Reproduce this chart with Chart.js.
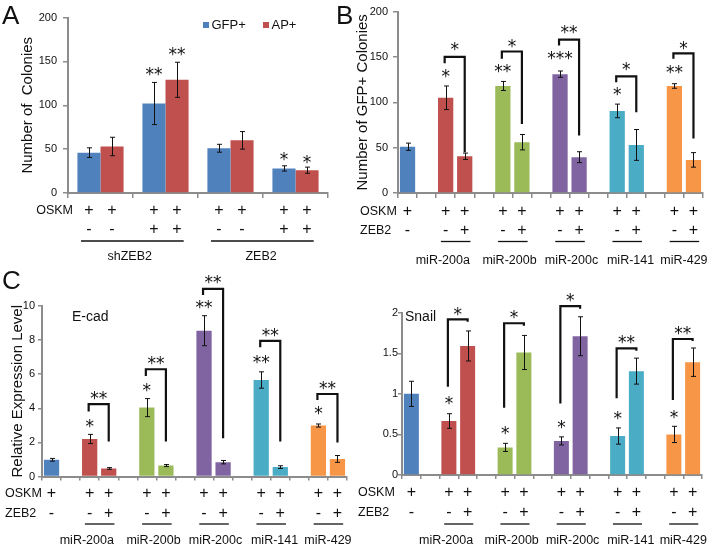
<!DOCTYPE html>
<html>
<head>
<meta charset="utf-8">
<script src="https://cdn.jsdelivr.net/npm/chart.js@4.4.1/dist/chart.umd.min.js"></script>
<style>
  html, body { margin: 0; padding: 0; background: #fff; }
  #wrap { position: relative; width: 714px; height: 546px; overflow: hidden; }
  #wrap canvas { position: absolute; left: 0; top: 0; }
</style>
</head>
<body>
<div id="wrap">
  <canvas id="chartA" width="714" height="546"></canvas>
  <canvas id="chartB" width="714" height="546"></canvas>
  <canvas id="chartC1" width="714" height="546"></canvas>
  <canvas id="chartC2" width="714" height="546"></canvas>
</div>
<script>
const FONT = "'Liberation Sans', Arial, sans-serif";
const STAR_FONT = "'DejaVu Sans', sans-serif";
const AXIS = '#8c8c8c';
const INK = '#111';

// ---- panel A: colonies with shZEB2 / ZEB2
const catsA = ['OSKM', 'OSKM + shZEB2', 'OSKM', 'OSKM + ZEB2'];
const gfpA = [46, 102, 51, 28];
const gfpErrA = [5.5, 24, 4.5, 3];
const apA = [53, 129, 60, 26];
const apErrA = [10.5, 20, 10, 3.5];
const oskmA = ['+', '+', '+', '+', '+', '+', '+', '+'];
const zebA = ['-', '-', '+', '+', '-', '-', '+', '+'];
const groupsA = ['shZEB2', 'ZEB2'];

// ---- panels B and C share the same 16 slots (gaps are empty slots)
const slots = ['OSKM', '', 'miR-200a', 'miR-200a+ZEB2', '', 'miR-200b', 'miR-200b+ZEB2', '',
               'miR-200c', 'miR-200c+ZEB2', '', 'miR-141', 'miR-141+ZEB2', '', 'miR-429', 'miR-429+ZEB2'];
const mirs = ['miR-200a', 'miR-200b', 'miR-200c', 'miR-141', 'miR-429'];
const oskmRow = ['+', '+', '+', '+', '+', '+', '+', '+', '+', '+', '+'];
const zebRow = ['-', '-', '+', '-', '+', '-', '+', '-', '+', '-', '+'];
const slotColors = ['#4F81BD', null, '#C0504D', '#C0504D', null, '#9BBB59', '#9BBB59', null,
                    '#8064A2', '#8064A2', null, '#4BACC6', '#4BACC6', null, '#F79646', '#F79646'];

const gfpB = [51, null, 105, 40.5, null, 118, 56, null, 131, 39.5, null, 90.5, 53, null, 118, 36.5];
const gfpErrB = [4, null, 13, 3.5, null, 5, 8.5, null, 3.5, 6, null, 7.5, 17, null, 2.5, 8];

const ecad = [0.98, null, 2.2, 0.47, null, 4.04, 0.64, null, 8.55, 0.84, null, 5.66, 0.55, null, 2.99, 1.03];
const ecadErr = [0.08, null, 0.27, 0.05, null, 0.53, 0.06, null, 0.88, 0.1, null, 0.48, 0.08, null, 0.09, 0.2];

const snail = [1.0, null, 0.665, 1.59, null, 0.34, 1.51, null, 0.42, 1.71, null, 0.48, 1.28, null, 0.5, 1.39];
const snailErr = [0.155, null, 0.09, 0.185, null, 0.05, 0.21, null, 0.05, 0.24, null, 0.1, 0.16, null, 0.1, 0.175];

// significance marks (value units)
const starsA = [{ds: 0, i: 1, v: 139, t: '**'}, {ds: 1, i: 1, v: 162, t: '**'},
                {ds: 0, i: 3, v: 43, t: '*'}, {ds: 1, i: 3, v: 39.5, t: '*'}];
const starsB = [{i: 2, v: 133, t: '*'}, {i: 5, v: 138.7, t: '**'}, {i: 8, v: 153, t: '***'},
                {i: 11, v: 113, t: '*'}, {i: 14, v: 137, t: '**'}];
const bracketsB = [
  {a: 2, b: 3, top: 150, lb: 143, rb: 45, t: '*', tv: 162.5},
  {a: 5, b: 6, top: 156, lb: 148, rb: 76, t: '*', tv: 166},
  {a: 8, b: 9, top: 169, lb: 162.5, rb: 63.5, t: '**', tv: 181},
  {a: 11, b: 12, top: 128.5, lb: 122, rb: 89, t: '*', tv: 140.5},
  {a: 14, b: 15, top: 154, lb: 148, rb: 60, t: '*', tv: 164}
];
const starsC1 = [{i: 2, v: 3.16, t: '*'}, {i: 5, v: 5.27, t: '*'}, {i: 8, v: 10.16, t: '**'},
                 {i: 11, v: 6.94, t: '**'}, {i: 14, v: 3.91, t: '*'}];
const bracketsC1 = [
  {a: 2, b: 3, top: 4.24, lb: 3.81, rb: 2.05, t: '**', tv: 4.79},
  {a: 5, b: 6, top: 6.29, lb: 5.9, rb: 2.05, t: '**', tv: 6.84},
  {a: 8, b: 9, top: 11.0, lb: 10.64, rb: 2.25, t: '**', tv: 11.62},
  {a: 11, b: 12, top: 7.95, lb: 7.58, rb: 2.05, t: '**', tv: 8.49},
  {a: 14, b: 15, top: 4.84, lb: 4.49, rb: 1.99, t: '**', tv: 5.37}
];
const starsC2 = [{i: 2, v: 0.924, t: '*'}, {i: 5, v: 0.554, t: '*'}, {i: 8, v: 0.628, t: '*'},
                 {i: 11, v: 0.739, t: '*'}, {i: 14, v: 0.76, t: '*'}];
const bracketsC2 = [
  {a: 2, b: 3, top: 1.918, lb: 1.088, rb: 1.89, t: '*', tv: 2.03},
  {a: 5, b: 6, top: 1.87, lb: 0.83, rb: 1.84, t: '*', tv: 1.99},
  {a: 8, b: 9, top: 2.08, lb: 0.88, rb: 2.05, t: '*', tv: 2.2},
  {a: 11, b: 12, top: 1.56, lb: 0.945, rb: 1.53, t: '**', tv: 1.68},
  {a: 14, b: 15, top: 1.676, lb: 0.924, rb: 1.65, t: '**', tv: 1.795}
];

// where the miR names sit under their pairs (slot units)
const mirLabelAt = [1.85, 5.35, 8.6, 11.7, 14.5];
const mirGroups = mirs.map((m, k) => ({text: m, a: 2 + 3 * k, b: 3 + 3 * k, at: mirLabelAt[k]}));

Chart.defaults.font.family = FONT;

// error bars, brackets, stars and the +/- table under the axis
function marks(cfg) {
  return {
    id: 'marks',
    afterDraw(chart) {
      const ctx = chart.ctx, xs = chart.scales.x, ys = chart.scales.y;
      const barX = (ds, i) => chart.getDatasetMeta(ds).data[i].x;
      const starY = v => ys.getPixelForValue(v) + 0.55 * 17;
      ctx.save();
      ctx.strokeStyle = INK;
      ctx.fillStyle = INK;

      ctx.lineWidth = 1;
      cfg.err.forEach((errs, ds) => {
        const vals = chart.data.datasets[ds].data;
        errs.forEach((e, i) => {
          if (e == null || vals[i] == null) return;
          const x = Math.round(barX(ds, i)) + 0.5;
          const y1 = ys.getPixelForValue(vals[i] - e), y2 = ys.getPixelForValue(vals[i] + e);
          ctx.beginPath();
          ctx.moveTo(x, y1); ctx.lineTo(x, y2);
          ctx.moveTo(x - cfg.cap, y1); ctx.lineTo(x + cfg.cap, y1);
          ctx.moveTo(x - cfg.cap, y2); ctx.lineTo(x + cfg.cap, y2);
          ctx.stroke();
        });
      });

      ctx.font = '17px ' + STAR_FONT;
      ctx.textAlign = 'center';
      ctx.textBaseline = 'alphabetic';
      cfg.stars.forEach(s => ctx.fillText(s.t, barX(s.ds || 0, s.i), starY(s.v)));

      ctx.lineWidth = 2.2;
      ctx.lineJoin = 'miter';
      (cfg.brackets || []).forEach(b => {
        const xa = barX(0, b.a) - 1, xb = barX(0, b.b), yt = ys.getPixelForValue(b.top);
        ctx.beginPath();
        ctx.moveTo(xa, ys.getPixelForValue(b.lb));
        ctx.lineTo(xa, yt);
        ctx.lineTo(xb, yt);
        ctx.lineTo(xb, ys.getPixelForValue(b.rb));
        ctx.stroke();
        ctx.fillText(b.t, (xa + xb) / 2, starY(b.tv));
      });

      // bar centres left to right, for the +/- rows
      const centres = [];
      chart.data.datasets.forEach((d, di) => d.data.forEach((v, i) => {
        if (v != null) centres.push(barX(di, i));
      }));
      centres.sort((p, q) => p - q);
      ctx.textBaseline = 'middle';
      cfg.rows.forEach(r => {
        if (r.label) {
          ctx.font = '12.5px ' + FONT;
          ctx.textAlign = r.align;
          ctx.fillText(r.label, r.lx, r.y);
        }
        ctx.font = '16px ' + FONT;
        ctx.textAlign = 'center';
        r.signs.forEach((s, k) => ctx.fillText(s, centres[k], r.y));
      });

      ctx.lineWidth = 1.3;
      ctx.font = '12.5px ' + FONT;
      cfg.groups.forEach(g => {
        const x1 = xs.getPixelForValue(g.a - cfg.underPad[0]);
        const x2 = xs.getPixelForValue(g.b + cfg.underPad[1]);
        ctx.beginPath();
        ctx.moveTo(x1, cfg.underY); ctx.lineTo(x2, cfg.underY);
        ctx.stroke();
        ctx.fillText(g.text, xs.getPixelForValue(g.at), cfg.groupY);
      });

      if (cfg.legend) {
        ctx.font = '13px ' + FONT;
        ctx.textAlign = 'left';
        chart.data.datasets.forEach((d, di) => {
          const lx = cfg.legend.x[di];
          ctx.fillStyle = d.backgroundColor;
          ctx.fillRect(lx, cfg.legend.y - 3, 6, 6);
          ctx.fillStyle = INK;
          ctx.fillText(d.label, lx + 8.5, cfg.legend.y);
        });
      }

      (cfg.texts || []).forEach(t => {
        ctx.font = t.size + 'px ' + FONT;
        ctx.textAlign = 'left';
        ctx.textBaseline = t.base || 'middle';
        ctx.fillText(t.t, t.x, t.y);
      });
      ctx.restore();
    }
  };
}

function build(id, c) {
  return new Chart(document.getElementById(id), {
    type: 'bar',
    data: {labels: c.labels, datasets: c.datasets},
    options: {
      responsive: false,
      animation: false,
      events: [],
      layout: {padding: c.pad},
      plugins: {legend: {display: false}, tooltip: {enabled: false}},
      scales: {
        x: {
          grid: {drawOnChartArea: false, tickLength: c.tick, color: AXIS, lineWidth: 1.5},
          border: {color: AXIS, width: 2},
          ticks: {display: false},
          afterFit: s => { s.height = c.tick; }
        },
        y: {
          min: 0,
          max: c.max,
          ticks: {stepSize: c.step, color: INK, font: {family: FONT, size: 11}, padding: c.tickPad,
                  callback: v => String(+v)},
          grid: {drawOnChartArea: false, tickLength: c.tick, color: AXIS, lineWidth: 1.5},
          border: {color: AXIS, width: 2},
          title: c.title
            ? {display: true, text: c.title, color: INK, font: {family: FONT, size: 15},
               padding: {top: c.titlePad, bottom: 0}}
            : {display: false},
          afterFit: s => { s.width = c.yw; }
        }
      }
    },
    plugins: [marks(c.marks)]
  });
}

function slotSet(values, label) {
  return [{label: label, data: values, backgroundColor: slotColors,
           categoryPercentage: 1, barPercentage: 0.8, borderWidth: 0}];
}

build('chartA', {
  labels: catsA,
  datasets: [
    {label: 'GFP+', data: gfpA, backgroundColor: '#4F81BD', categoryPercentage: 0.71, barPercentage: 1, borderWidth: 0},
    {label: 'AP+', data: apA, backgroundColor: '#C0504D', categoryPercentage: 0.71, barPercentage: 1, borderWidth: 0}
  ],
  pad: {left: 10, right: 386, top: 17.5, bottom: 348},
  yw: 58, tick: 5, tickPad: 6, max: 200, step: 50,
  title: 'Number of  Colonies', titlePad: 8.5,
  marks: {
    err: [gfpErrA, apErrA], cap: 2.5, stars: starsA,
    rows: [{label: 'OSKM', lx: 73, align: 'right', y: 210.5, signs: oskmA},
           {label: '', y: 230, signs: zebA}],
    groups: [{text: groupsA[0], a: 0, b: 1, at: 0.45}, {text: groupsA[1], a: 2, b: 3, at: 2.47}],
    underPad: [0.3, 0.28], underY: 241, groupY: 257,
    legend: {x: [203, 263], y: 25},
    texts: [{t: 'A', x: 2, y: 23.5, size: 26, base: 'alphabetic'},
            {t: 'B', x: 336, y: 23.5, size: 26, base: 'alphabetic'}]
  }
});

build('chartB', {
  labels: slots,
  datasets: slotSet(gfpB, 'GFP+ colonies'),
  pad: {left: 350, right: 11, top: 11, bottom: 348},
  yw: 48, tick: 5, tickPad: 5, max: 200, step: 50,
  title: 'Number of GFP+ Colonies', titlePad: 3.5,
  marks: {
    err: [gfpErrB], cap: 2.5, stars: starsB, brackets: bracketsB,
    rows: [{label: 'OSKM', lx: 360, align: 'left', y: 211.5, signs: oskmRow},
           {label: 'ZEB2', lx: 360, align: 'left', y: 231, signs: zebRow}],
    groups: mirGroups, underPad: [0.25, 0.3], underY: 241.5, groupY: 260.5
  }
});

build('chartC1', {
  labels: slots,
  datasets: slotSet(ecad, 'E-cad'),
  pad: {left: 0, right: 367, top: 306, bottom: 65.5},
  yw: 42, tick: 4, tickPad: 3, max: 10, step: 2,
  title: 'Relative Expression Level', titlePad: 8.5,
  marks: {
    err: [ecadErr], cap: 2.5, stars: starsC1, brackets: bracketsC1,
    rows: [{label: 'OSKM', lx: 5, align: 'left', y: 494, signs: oskmRow},
           {label: 'ZEB2', lx: 5, align: 'left', y: 514, signs: zebRow}],
    groups: mirGroups, underPad: [0.25, 0.3], underY: 524, groupY: 541,
    texts: [{t: 'C', x: 2, y: 288.5, size: 26, base: 'alphabetic'},
            {t: 'E-cad', x: 72, y: 317.5, size: 14}]
  }
});

build('chartC2', {
  labels: slots,
  datasets: slotSet(snail, 'Snail'),
  pad: {left: 360, right: 12, top: 312.7, bottom: 67},
  yw: 42, tick: 4, tickPad: 0, max: 2, step: 0.5,
  title: '', titlePad: 0,
  marks: {
    err: [snailErr], cap: 2.5, stars: starsC2, brackets: bracketsC2,
    rows: [{label: 'OSKM', lx: 358, align: 'left', y: 493, signs: oskmRow},
           {label: 'ZEB2', lx: 358, align: 'left', y: 513, signs: zebRow}],
    groups: mirGroups, underPad: [0.25, 0.3], underY: 524, groupY: 541,
    texts: [{t: 'Snail', x: 405, y: 317.5, size: 14}]
  }
});
</script>
</body>
</html>
